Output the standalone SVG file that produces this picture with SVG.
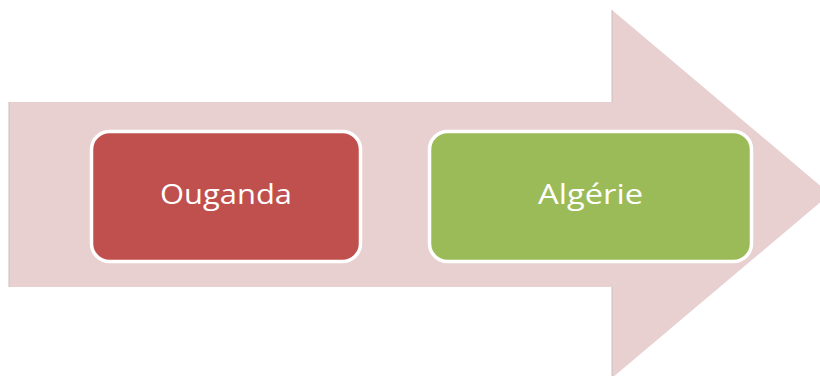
<svg xmlns="http://www.w3.org/2000/svg" width="820" height="376" viewBox="0 0 820 376">
<style>
.box{stroke:#FFFFFF;stroke-width:3.5}
.lbl{font-family:"Open Sans","Liberation Sans",sans-serif;font-size:27px;fill:#FFFFFF;text-anchor:middle}
</style>
<rect width="820" height="376" fill="#FFFFFF"/>
<g id="arrow">
<polygon points="9,102 612,102 612,10 830,194 612,378 612,287 9,287" fill="#E8CFD0"/>
<polyline points="9,287 9,102" fill="none" stroke="#C9C0C0" stroke-width="1"/>
<polyline points="612,102 612,10" fill="none" stroke="#C9C0C0" stroke-width="1"/>
<polyline points="612,287 612,378" fill="none" stroke="#C9C0C0" stroke-width="1"/>
</g>
<g id="ouganda">
<rect class="box" x="91.5" y="131.5" width="269" height="130" rx="18" fill="#C0504D"/>
<text class="lbl" x="226" y="204" textLength="132" lengthAdjust="spacingAndGlyphs">Ouganda</text>
</g>
<g id="algerie">
<rect class="box" x="429.5" y="131.5" width="322" height="130" rx="18" fill="#9BBB59"/>
<text class="lbl" x="590.5" y="204" textLength="105" lengthAdjust="spacingAndGlyphs">Algérie</text>
</g>
<g id="connectors"></g>
</svg>
